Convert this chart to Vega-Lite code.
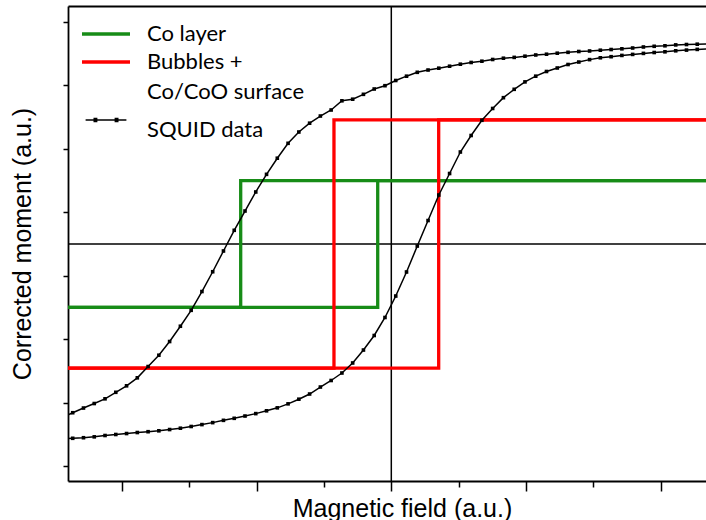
{
  "$schema": "https://vega.github.io/schema/vega-lite/v6.json",
  "width": 638,
  "height": 475,
  "autosize": {"type": "none"},
  "padding": {"left": 68, "top": 6, "right": 0, "bottom": 39},
  "background": "white",
  "config": {"view": {"stroke": null}, "axis": {"grid": false}},
  "datasets": {
    "zero": [{"v": 0}],
    "steps": [
      {"s": "Co layer", "b": "up", "k": 0, "x": -2.6, "y": -1},
      {"s": "Co layer", "b": "up", "k": 1, "x": -0.101, "y": -1},
      {"s": "Co layer", "b": "up", "k": 2, "x": -0.101, "y": 1},
      {"s": "Co layer", "b": "up", "k": 3, "x": 2.6, "y": 1},
      {"s": "Co layer", "b": "down", "k": 0, "x": 2.6, "y": 1},
      {"s": "Co layer", "b": "down", "k": 1, "x": -1.119, "y": 1},
      {"s": "Co layer", "b": "down", "k": 2, "x": -1.119, "y": -1},
      {"s": "Co layer", "b": "down", "k": 3, "x": -2.6, "y": -1},
      {"s": "Bubbles + Co/CoO surface", "b": "up", "k": 0, "x": -2.6, "y": -1.955},
      {"s": "Bubbles + Co/CoO surface", "b": "up", "k": 1, "x": 0.352, "y": -1.955},
      {"s": "Bubbles + Co/CoO surface", "b": "up", "k": 2, "x": 0.352, "y": 1.955},
      {"s": "Bubbles + Co/CoO surface", "b": "up", "k": 3, "x": 2.6, "y": 1.955},
      {"s": "Bubbles + Co/CoO surface", "b": "down", "k": 0, "x": 2.6, "y": 1.955},
      {"s": "Bubbles + Co/CoO surface", "b": "down", "k": 1, "x": -0.426, "y": 1.955},
      {"s": "Bubbles + Co/CoO surface", "b": "down", "k": 2, "x": -0.426, "y": -1.955},
      {"s": "Bubbles + Co/CoO surface", "b": "down", "k": 3, "x": -2.6, "y": -1.955}
    ],
    "squid": [
      {"s": "SQUID data", "b": "d", "x": -2.447, "y": -2.734},
      {"s": "SQUID data", "b": "d", "x": -2.367, "y": -2.659},
      {"s": "SQUID data", "b": "d", "x": -2.287, "y": -2.585},
      {"s": "SQUID data", "b": "d", "x": -2.207, "y": -2.514},
      {"s": "SQUID data", "b": "d", "x": -2.127, "y": -2.44},
      {"s": "SQUID data", "b": "d", "x": -2.047, "y": -2.337},
      {"s": "SQUID data", "b": "d", "x": -1.967, "y": -2.235},
      {"s": "SQUID data", "b": "d", "x": -1.887, "y": -2.109},
      {"s": "SQUID data", "b": "d", "x": -1.807, "y": -1.931},
      {"s": "SQUID data", "b": "d", "x": -1.727, "y": -1.753},
      {"s": "SQUID data", "b": "d", "x": -1.647, "y": -1.537},
      {"s": "SQUID data", "b": "d", "x": -1.567, "y": -1.296},
      {"s": "SQUID data", "b": "d", "x": -1.487, "y": -1.045},
      {"s": "SQUID data", "b": "d", "x": -1.407, "y": -0.749},
      {"s": "SQUID data", "b": "d", "x": -1.327, "y": -0.437},
      {"s": "SQUID data", "b": "d", "x": -1.247, "y": -0.11},
      {"s": "SQUID data", "b": "d", "x": -1.167, "y": 0.216},
      {"s": "SQUID data", "b": "d", "x": -1.087, "y": 0.52},
      {"s": "SQUID data", "b": "d", "x": -1.007, "y": 0.82},
      {"s": "SQUID data", "b": "d", "x": -0.927, "y": 1.098},
      {"s": "SQUID data", "b": "d", "x": -0.847, "y": 1.352},
      {"s": "SQUID data", "b": "d", "x": -0.767, "y": 1.587},
      {"s": "SQUID data", "b": "d", "x": -0.687, "y": 1.765},
      {"s": "SQUID data", "b": "d", "x": -0.607, "y": 1.904},
      {"s": "SQUID data", "b": "d", "x": -0.527, "y": 2.017},
      {"s": "SQUID data", "b": "d", "x": -0.447, "y": 2.112},
      {"s": "SQUID data", "b": "d", "x": -0.367, "y": 2.257},
      {"s": "SQUID data", "b": "d", "x": -0.287, "y": 2.282},
      {"s": "SQUID data", "b": "d", "x": -0.207, "y": 2.359},
      {"s": "SQUID data", "b": "d", "x": -0.127, "y": 2.443},
      {"s": "SQUID data", "b": "d", "x": -0.047, "y": 2.495},
      {"s": "SQUID data", "b": "d", "x": 0.033, "y": 2.577},
      {"s": "SQUID data", "b": "d", "x": 0.113, "y": 2.645},
      {"s": "SQUID data", "b": "d", "x": 0.193, "y": 2.706},
      {"s": "SQUID data", "b": "d", "x": 0.273, "y": 2.742},
      {"s": "SQUID data", "b": "d", "x": 0.353, "y": 2.771},
      {"s": "SQUID data", "b": "d", "x": 0.433, "y": 2.802},
      {"s": "SQUID data", "b": "d", "x": 0.513, "y": 2.834},
      {"s": "SQUID data", "b": "d", "x": 0.593, "y": 2.861},
      {"s": "SQUID data", "b": "d", "x": 0.673, "y": 2.881},
      {"s": "SQUID data", "b": "d", "x": 0.753, "y": 2.908},
      {"s": "SQUID data", "b": "d", "x": 0.833, "y": 2.928},
      {"s": "SQUID data", "b": "d", "x": 0.913, "y": 2.941},
      {"s": "SQUID data", "b": "d", "x": 0.993, "y": 2.96},
      {"s": "SQUID data", "b": "d", "x": 1.073, "y": 2.979},
      {"s": "SQUID data", "b": "d", "x": 1.153, "y": 2.991},
      {"s": "SQUID data", "b": "d", "x": 1.233, "y": 3.007},
      {"s": "SQUID data", "b": "d", "x": 1.313, "y": 3.021},
      {"s": "SQUID data", "b": "d", "x": 1.393, "y": 3.034},
      {"s": "SQUID data", "b": "d", "x": 1.473, "y": 3.042},
      {"s": "SQUID data", "b": "d", "x": 1.553, "y": 3.054},
      {"s": "SQUID data", "b": "d", "x": 1.633, "y": 3.065},
      {"s": "SQUID data", "b": "d", "x": 1.713, "y": 3.076},
      {"s": "SQUID data", "b": "d", "x": 1.793, "y": 3.089},
      {"s": "SQUID data", "b": "d", "x": 1.873, "y": 3.105},
      {"s": "SQUID data", "b": "d", "x": 1.953, "y": 3.116},
      {"s": "SQUID data", "b": "d", "x": 2.033, "y": 3.124},
      {"s": "SQUID data", "b": "d", "x": 2.113, "y": 3.138},
      {"s": "SQUID data", "b": "d", "x": 2.193, "y": 3.144},
      {"s": "SQUID data", "b": "d", "x": 2.273, "y": 3.149},
      {"s": "SQUID data", "b": "d", "x": 2.353, "y": 3.155},
      {"s": "SQUID data", "b": "u", "x": -2.447, "y": -3.07},
      {"s": "SQUID data", "b": "u", "x": -2.367, "y": -3.062},
      {"s": "SQUID data", "b": "u", "x": -2.287, "y": -3.053},
      {"s": "SQUID data", "b": "u", "x": -2.207, "y": -3.039},
      {"s": "SQUID data", "b": "u", "x": -2.127, "y": -3.018},
      {"s": "SQUID data", "b": "u", "x": -2.047, "y": -3.002},
      {"s": "SQUID data", "b": "u", "x": -1.967, "y": -2.987},
      {"s": "SQUID data", "b": "u", "x": -1.887, "y": -2.971},
      {"s": "SQUID data", "b": "u", "x": -1.807, "y": -2.958},
      {"s": "SQUID data", "b": "u", "x": -1.727, "y": -2.944},
      {"s": "SQUID data", "b": "u", "x": -1.647, "y": -2.924},
      {"s": "SQUID data", "b": "u", "x": -1.567, "y": -2.903},
      {"s": "SQUID data", "b": "u", "x": -1.487, "y": -2.876},
      {"s": "SQUID data", "b": "u", "x": -1.407, "y": -2.846},
      {"s": "SQUID data", "b": "u", "x": -1.327, "y": -2.815},
      {"s": "SQUID data", "b": "u", "x": -1.247, "y": -2.779},
      {"s": "SQUID data", "b": "u", "x": -1.167, "y": -2.747},
      {"s": "SQUID data", "b": "u", "x": -1.087, "y": -2.711},
      {"s": "SQUID data", "b": "u", "x": -1.007, "y": -2.673},
      {"s": "SQUID data", "b": "u", "x": -0.927, "y": -2.629},
      {"s": "SQUID data", "b": "u", "x": -0.847, "y": -2.582},
      {"s": "SQUID data", "b": "u", "x": -0.767, "y": -2.519},
      {"s": "SQUID data", "b": "u", "x": -0.687, "y": -2.446},
      {"s": "SQUID data", "b": "u", "x": -0.607, "y": -2.364},
      {"s": "SQUID data", "b": "u", "x": -0.527, "y": -2.254},
      {"s": "SQUID data", "b": "u", "x": -0.447, "y": -2.151},
      {"s": "SQUID data", "b": "u", "x": -0.367, "y": -2.033},
      {"s": "SQUID data", "b": "u", "x": -0.287, "y": -1.875},
      {"s": "SQUID data", "b": "u", "x": -0.207, "y": -1.671},
      {"s": "SQUID data", "b": "u", "x": -0.127, "y": -1.442},
      {"s": "SQUID data", "b": "u", "x": -0.047, "y": -1.158},
      {"s": "SQUID data", "b": "u", "x": 0.033, "y": -0.82},
      {"s": "SQUID data", "b": "u", "x": 0.113, "y": -0.441},
      {"s": "SQUID data", "b": "u", "x": 0.193, "y": -0.032},
      {"s": "SQUID data", "b": "u", "x": 0.273, "y": 0.37},
      {"s": "SQUID data", "b": "u", "x": 0.353, "y": 0.772},
      {"s": "SQUID data", "b": "u", "x": 0.433, "y": 1.111},
      {"s": "SQUID data", "b": "u", "x": 0.513, "y": 1.45},
      {"s": "SQUID data", "b": "u", "x": 0.593, "y": 1.71},
      {"s": "SQUID data", "b": "u", "x": 0.673, "y": 1.95},
      {"s": "SQUID data", "b": "u", "x": 0.753, "y": 2.136},
      {"s": "SQUID data", "b": "u", "x": 0.833, "y": 2.306},
      {"s": "SQUID data", "b": "u", "x": 0.913, "y": 2.438},
      {"s": "SQUID data", "b": "u", "x": 0.993, "y": 2.555},
      {"s": "SQUID data", "b": "u", "x": 1.073, "y": 2.645},
      {"s": "SQUID data", "b": "u", "x": 1.153, "y": 2.719},
      {"s": "SQUID data", "b": "u", "x": 1.233, "y": 2.774},
      {"s": "SQUID data", "b": "u", "x": 1.313, "y": 2.829},
      {"s": "SQUID data", "b": "u", "x": 1.393, "y": 2.868},
      {"s": "SQUID data", "b": "u", "x": 1.473, "y": 2.906},
      {"s": "SQUID data", "b": "u", "x": 1.553, "y": 2.935},
      {"s": "SQUID data", "b": "u", "x": 1.633, "y": 2.952},
      {"s": "SQUID data", "b": "u", "x": 1.713, "y": 2.972},
      {"s": "SQUID data", "b": "u", "x": 1.793, "y": 2.988},
      {"s": "SQUID data", "b": "u", "x": 1.873, "y": 3.004},
      {"s": "SQUID data", "b": "u", "x": 1.953, "y": 3.018},
      {"s": "SQUID data", "b": "u", "x": 2.033, "y": 3.029},
      {"s": "SQUID data", "b": "u", "x": 2.113, "y": 3.045},
      {"s": "SQUID data", "b": "u", "x": 2.193, "y": 3.056},
      {"s": "SQUID data", "b": "u", "x": 2.273, "y": 3.067},
      {"s": "SQUID data", "b": "u", "x": 2.353, "y": 3.075}
    ]
  },
  "resolve": {"axis": {"x": "independent"}},
  "layer": [
    {
      "data": {"name": "zero"},
      "mark": {"type": "rule", "color": "black", "strokeWidth": 1.5},
      "encoding": {
        "y": {"field": "v", "type": "quantitative", "scale": {"domain": [-3.735, 3.751], "nice": false, "zero": false},
          "axis": {"orient": "left", "values": [-3.5, -3, -2.5, -2, -1.5, -1, -0.5, 0, 0.5, 1, 1.5, 2, 2.5, 3, 3.5], "labels": false,
            "tickSize": {"condition": {"test": "datum.value % 1 === 0", "value": 10}, "value": 5},
            "tickWidth": 1.5, "tickColor": "black", "domainColor": "black", "domainWidth": 1.8,
            "title": "Corrected moment (a.u.)", "titleFont": "Liberation Sans", "titleFontSize": 25, "titleFontWeight": "normal", "titleColor": "black", "titlePadding": 27}}
      }
    },
    {
      "data": {"name": "zero"},
      "mark": {"type": "rule", "color": "black", "strokeWidth": 1.5},
      "encoding": {
        "x": {"field": "v", "type": "quantitative", "scale": {"domain": [-2.402, 2.338], "nice": false, "zero": false},
          "axis": {"orient": "top", "labels": false, "ticks": false, "title": null, "domain": true, "domainColor": "black", "domainWidth": 1.8}}
      }
    },
    {
      "data": {"name": "steps"},
      "mark": {"type": "line", "strokeWidth": 3.3, "clip": true, "strokeJoin": "miter"},
      "encoding": {
        "x": {"field": "x", "type": "quantitative",
          "axis": {"orient": "bottom", "values": [-2, -1.5, -1, -0.5, 0, 0.5, 1, 1.5, 2], "labels": false,
            "tickSize": {"condition": {"test": "datum.value % 1 === 0", "value": 10}, "value": 6},
            "tickWidth": 1.5, "tickColor": "black", "domainColor": "black", "domainWidth": 1.8,
            "title": "Magnetic field (a.u.)", "titleFont": "Liberation Sans", "titleFontSize": 25, "titleFontWeight": "normal", "titleColor": "black", "titlePadding": 5, "titleX": 334}},
        "y": {"field": "y", "type": "quantitative"},
        "detail": {"field": "b"},
        "order": {"field": "k", "type": "quantitative"},
        "color": {"field": "s", "type": "nominal",
          "scale": {"domain": ["Co layer", "Bubbles + Co/CoO surface", "SQUID data"], "range": ["#178c17", "#ff0000", "#000000"]},
          "legend": {
            "orient": "none", "legendX": 27, "legendY": 17, "title": null, "padding": 0,
            "labelFont": "Lato", "labelFontSize": 22, "labelColor": "black", "labelLimit": 400, "labelOffset": 30,
            "symbolSize": 576, "symbolStrokeWidth": 3.3, "rowPadding": 6,
            "labelExpr": "datum.value === 'Bubbles + Co/CoO surface' ? ['Bubbles +', 'Co/CoO surface'] : datum.label",
            "encode": {
              "symbols": {"update": {
                "shape": {"signal": "datum.value === 'SQUID data' ? 'M-1.7,0H1.7M-0.98,-0.13H-0.78V0.13H-0.98ZM0.78,-0.13H0.98V0.13H0.78Z' : 'M-2,0H2'"},
                "strokeWidth": {"signal": "datum.value === 'SQUID data' ? 1.5 : 3.3"},
                "dy": {"signal": "datum.value === 'SQUID data' ? 9.5 : 0"}
              }},
              "labels": {"update": {
                "lineHeight": {"value": 30},
                "dy": {"signal": "datum.value === 'SQUID data' ? 9.5 : 0"}
              }}
            }
          }}
      }
    },
    {
      "data": {"name": "squid"},
      "mark": {"type": "line", "strokeWidth": 1.5, "clip": true},
      "encoding": {
        "x": {"field": "x", "type": "quantitative", "axis": null},
        "y": {"field": "y", "type": "quantitative"},
        "detail": {"field": "b"},
        "color": {"field": "s", "type": "nominal"}
      }
    },
    {
      "data": {"name": "squid"},
      "mark": {"type": "point", "shape": "square", "size": 13, "filled": true, "color": "black", "opacity": 1, "clip": true},
      "encoding": {
        "x": {"field": "x", "type": "quantitative", "axis": null},
        "y": {"field": "y", "type": "quantitative"}
      }
    }
  ]
}
